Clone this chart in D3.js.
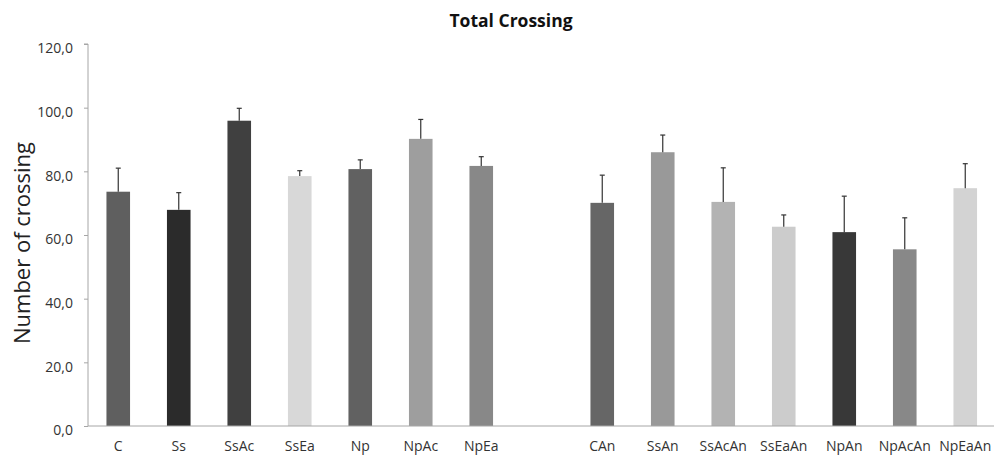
<!DOCTYPE html>
<html><head><meta charset="utf-8">
<script src="https://cdn.jsdelivr.net/npm/d3@7"></script>
<style>body{margin:0;background:#fff}svg{display:block}text{font-family:"Open Sans","Noto Sans",sans-serif}</style>
</head><body><svg id="c" width="994" height="455"></svg>
<script>
const groupA = ["C","Ss","SsAc","SsEa","Np","NpAc","NpEa"];
const groupB = ["CAn","SsAn","SsAcAn","SsEaAn","NpAn","NpAcAn","NpEaAn"];
const means  = [73.6,67.9,95.9,78.5,80.7,90.2,81.7, 70.1,86.0,70.4,62.6,60.9,55.5,74.7];
const errors = [7.4,5.4,3.9,1.7,2.9,6.1,2.9, 8.7,5.4,10.7,3.7,11.3,9.9,7.7];
const colors = ["#5f5f5f","#2b2b2b","#404040","#d8d8d8","#616161","#9e9e9e","#888888",
                "#666666","#999999","#b3b3b3","#cccccc","#383838","#888888","#d3d3d3"];
const yTicks = [0,20,40,60,80,100,120];

const categories = groupA.concat(groupB);
const data = categories.map((c,i)=>({c, v:means[i], e:errors[i], col:colors[i]}));
const svg = d3.select("#c");
const m = {l:88, r:0, t:44, b:29};
const W = 994, H = 455;
const x = d3.scaleBand().domain(groupA.concat(["__gap"], groupB)).range([m.l, m.l+15*60.5]).paddingInner(0.61).paddingOuter(0.305);
const y = d3.scaleLinear().domain([0,120]).range([H-m.b, m.t]);
const axisCol = "#a6a6a6";

// bars
svg.selectAll("rect.bar").data(data).join("rect")
  .attr("x", d=>x(d.c)).attr("width", x.bandwidth())
  .attr("y", d=>y(d.v)).attr("height", d=>y(0)-y(d.v)).attr("fill", d=>d.col);

// error bars
const eb = svg.selectAll("g.err").data(data).join("g").attr("stroke","#333").attr("stroke-width",1.2);
eb.append("line").attr("x1",d=>x(d.c)+x.bandwidth()/2).attr("x2",d=>x(d.c)+x.bandwidth()/2)
  .attr("y1",d=>y(d.v)).attr("y2",d=>y(d.v+d.e));
eb.append("line").attr("x1",d=>x(d.c)+x.bandwidth()/2-2.5).attr("x2",d=>x(d.c)+x.bandwidth()/2+2.5)
  .attr("y1",d=>y(d.v+d.e)).attr("y2",d=>y(d.v+d.e));

// y axis
const ya = svg.append("g").attr("transform",`translate(${m.l},0)`)
  .call(d3.axisLeft(y).tickValues(yTicks).tickSize(4).tickPadding(11).tickFormat(d=>d3.format(".1f")(d).replace(".",",")));
ya.select(".domain").attr("stroke",axisCol).attr("d",`M-4,${y(120)}H0V${y(0)}`);
ya.selectAll(".tick line").attr("stroke",axisCol);
ya.selectAll(".tick text").attr("font-size",14).attr("fill","#333").attr("dy","0.62em").style("font-family","Open Sans");

// x axis
const xa = svg.append("g").attr("transform",`translate(0,${y(0)})`)
  .call(d3.axisBottom(x).tickSize(0).tickPadding(15).tickFormat(d=>d==="__gap"?"":d));
xa.select(".domain").attr("stroke",axisCol).attr("d",`M${m.l},0H${W}`);
xa.selectAll(".tick text").attr("font-size",14).attr("fill","#333").style("font-family","Open Sans");

// title
svg.append("text").attr("x",511).attr("y",27).attr("text-anchor","middle")
  .attr("font-size",17.5).attr("font-weight","bold").attr("fill","#111").text("Total Crossing");
// y label
svg.append("text").attr("transform",`translate(30,243) rotate(-90)`).attr("text-anchor","middle")
  .attr("font-size",22).attr("fill","#222").text("Number of crossing");
</script></body></html>
